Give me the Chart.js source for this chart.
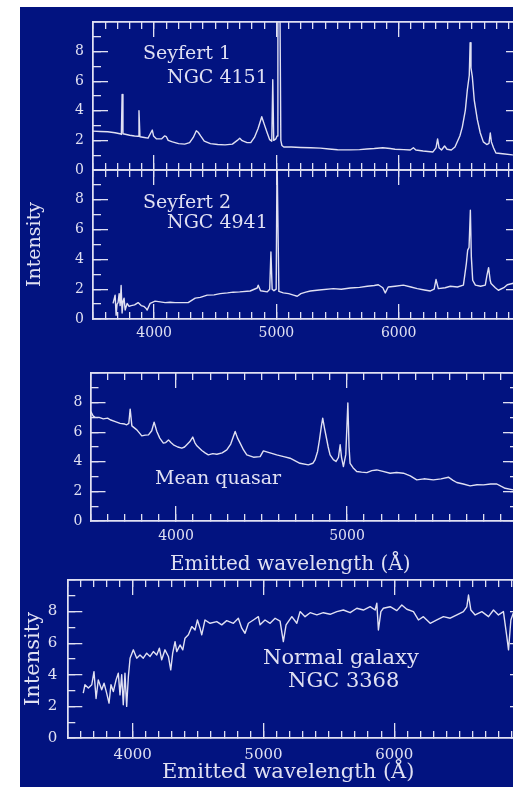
<!DOCTYPE html>
<html>
<head>
<meta charset="utf-8">
<script src="https://cdn.jsdelivr.net/npm/chart.js@4.4.1/dist/chart.umd.min.js"></script>
<style>
  html, body { margin: 0; padding: 0; background: #fff; overflow: hidden; width: 513px; height: 787px; }
  #backdrop { position: absolute; left: 20px; top: 7px; width: 493px; height: 780px; background: #021380; }
  canvas { position: absolute; left: 0; }
  .note { position: absolute; color: #e0e0f2; font-family: "DejaVu Serif", serif; white-space: nowrap; line-height: 1; }
</style>
</head>
<body>
<div id="backdrop"></div>
<canvas id="sy1" width="531" height="168" style="top:12px"></canvas>
<canvas id="sy2" width="531" height="189" style="top:160px"></canvas>
<canvas id="qso" width="528" height="188" style="top:363px"></canvas>
<canvas id="gal" width="535" height="198" style="top:570px"></canvas>

<div class="note" style="left:143px; top:43px; font-size:19px">Seyfert 1</div>
<div class="note" style="left:167px; top:67px; font-size:19px">NGC 4151</div>
<div class="note" style="left:143px; top:192px; font-size:19px">Seyfert 2</div>
<div class="note" style="left:167px; top:212px; font-size:19px">NGC 4941</div>
<div class="note" style="left:155px; top:468px; font-size:19px">Mean quasar</div>
<div class="note" style="left:170px; top:553px; font-size:20px">Emitted wavelength (Å)</div>
<div class="note" style="left:263px; top:647px; font-size:21px">Normal galaxy</div>
<div class="note" style="left:288px; top:670px; font-size:21px">NGC 3368</div>
<div class="note" style="left:162px; top:761px; font-size:21px">Emitted wavelength (Å)</div>

<script>
// tick labels
const waveLabels = [4000, 5000, 6000];
const waveLabelsQso = [4000, 5000];
const intensityLabels = [0, 2, 4, 6, 8];

// Seyfert 1 - NGC 4151
const sy1Wave = [3500, 3560, 3620, 3680, 3720, 3732, 3738, 3745, 3800, 3840, 3868, 3876, 3884, 3920, 3950, 3972, 3985, 3995,
  4020, 4060, 4085, 4100, 4115, 4150, 4200, 4250, 4290, 4320, 4345, 4360, 4380, 4410, 4460, 4520, 4580, 4640, 4680, 4700,
  4720, 4760, 4790, 4820, 4850, 4880, 4900, 4925, 4945, 4962, 4970, 4978, 4995, 5005, 5012, 5028, 5036, 5045, 5060, 5120,
  5200, 5280, 5360, 5430, 5500, 5600, 5680, 5740, 5800, 5870, 5930, 5970, 6040, 6095, 6120, 6140, 6200, 6280, 6305, 6318,
  6330, 6350, 6375, 6395, 6430, 6460, 6500, 6520, 6545, 6561, 6577, 6584, 6591, 6602, 6618, 6643, 6667, 6692, 6720, 6738,
  6749, 6758, 6775, 6795, 6850, 6930, 7000];
const sy1Flux = [2.63, 2.6, 2.58, 2.52, 2.45, 2.4, 5.1, 2.45, 2.35, 2.3, 2.28, 4.0, 2.25, 2.2, 2.15, 2.5, 2.7, 2.3,
  2.1, 2.1, 2.3, 2.25, 2.0, 1.9, 1.78, 1.75, 1.85, 2.2, 2.65, 2.55, 2.3, 1.95, 1.78, 1.72, 1.7, 1.75, 2.0, 2.15,
  1.98, 1.85, 1.85, 2.2, 2.8, 3.6, 3.1, 2.5, 2.05, 1.95, 6.1, 2.0, 2.1, 2.3, 12, 12, 2.0, 1.65, 1.55, 1.55,
  1.52, 1.5, 1.48, 1.42, 1.37, 1.36, 1.38, 1.42, 1.45, 1.5, 1.45, 1.4, 1.38, 1.35, 1.5, 1.35, 1.28, 1.22, 1.5, 2.1,
  1.5, 1.35, 1.62, 1.4, 1.35, 1.55, 2.3, 2.9, 4.05, 5.4, 6.4, 8.6, 6.9, 6.3, 4.7, 3.4, 2.5, 1.9, 1.72, 1.8,
  2.5, 1.9, 1.5, 1.15, 1.1, 1.02, 1.0];

// Seyfert 2 - NGC 4941
const sy2Wave = [3664, 3681, 3689, 3697, 3705, 3714, 3722, 3730, 3738, 3746, 3754, 3763, 3779, 3795, 3812, 3840, 3869, 3894,
  3915, 3935, 3943, 3967, 4008, 4050, 4090, 4130, 4172, 4230, 4278, 4336, 4377, 4434, 4490, 4540, 4600, 4646, 4700, 4785,
  4843, 4851, 4870, 4925, 4945, 4955, 4965, 4980, 4998, 5005, 5012, 5020, 5056, 5100, 5140, 5170, 5200, 5240, 5277, 5350,
  5465, 5530, 5604, 5680, 5743, 5800, 5833, 5870, 5890, 5914, 5970, 6038, 6100, 6152, 6210, 6259, 6290, 6305, 6324, 6380,
  6422, 6480, 6529, 6553, 6564, 6575, 6586, 6594, 6605, 6627, 6670, 6708, 6722, 6735, 6748, 6755, 6790, 6815, 6860, 6888,
  6937, 7000];
const sy2Flux = [1.05, 1.6, 0.25, 1.0, 1.1, 1.7, 0.9, 2.25, 0.4, 1.2, 1.4, 0.6, 1.05, 0.85, 0.9, 0.95, 1.1, 0.9,
  0.85, 0.7, 0.6, 1.05, 1.2, 1.15, 1.1, 1.12, 1.1, 1.1, 1.1, 1.4, 1.45, 1.6, 1.62, 1.7, 1.75, 1.8, 1.82, 1.88,
  2.08, 2.27, 1.9, 1.82, 2.0, 4.5, 2.0, 1.9, 2.0, 11, 11, 1.85, 1.75, 1.7, 1.6, 1.53, 1.7, 1.8, 1.88, 1.95,
  2.04, 2.0, 2.08, 2.12, 2.2, 2.25, 2.3, 2.1, 1.75, 2.15, 2.2, 2.27, 2.15, 2.04, 1.95, 1.88, 2.0, 2.65, 2.04, 2.1,
  2.2, 2.15, 2.27, 3.72, 4.62, 4.8, 7.3, 4.15, 2.6, 2.27, 2.2, 2.27, 2.94, 3.45, 2.6, 2.38, 2.1, 1.93, 2.1, 2.3,
  2.4, 2.3];

// Mean quasar
const qsoWave = [3502, 3515, 3527, 3550, 3575, 3600, 3615, 3645, 3673, 3700, 3712, 3724, 3732, 3742, 3771, 3800, 3820, 3839,
  3858, 3872, 3888, 3905, 3926, 3940, 3956, 3970, 3985, 4010, 4034, 4050, 4063, 4080, 4098, 4110, 4122, 4151, 4170, 4189,
  4215, 4239, 4270, 4297, 4320, 4346, 4360, 4375, 4395, 4414, 4453, 4492, 4511, 4550, 4589, 4630, 4667, 4700, 4725, 4774,
  4800, 4813, 4828, 4839, 4850, 4858, 4868, 4878, 4890, 4901, 4920, 4936, 4950, 4960, 4968, 4979, 4993, 5005, 5012, 5018,
  5035, 5057, 5085, 5116, 5145, 5174, 5210, 5252, 5290, 5330, 5370, 5408, 5450, 5505, 5550, 5593, 5620, 5642, 5680, 5720,
  5760, 5798, 5840, 5876, 5900, 5925, 5972, 6000];
const qsoFlux = [7.4, 7.1, 7.0, 7.0, 6.9, 6.95, 6.84, 6.72, 6.6, 6.55, 6.5, 6.6, 7.56, 6.43, 6.16, 5.75, 5.8, 5.82,
  6.1, 6.68, 6.05, 5.6, 5.26, 5.3, 5.48, 5.3, 5.15, 5.0, 4.92, 5.0, 5.15, 5.35, 5.67, 5.3, 5.08, 4.76, 4.6, 4.47,
  4.55, 4.51, 4.6, 4.8, 5.2, 6.05, 5.6, 5.26, 4.8, 4.47, 4.31, 4.35, 4.74, 4.6, 4.47, 4.35, 4.24, 4.05, 3.9, 3.79,
  3.9, 4.13, 4.7, 5.48, 6.4, 6.95, 6.3, 5.71, 5.0, 4.47, 4.15, 4.02, 4.3, 5.15, 4.3, 3.68, 4.5, 7.97, 5.0, 3.9,
  3.6, 3.34, 3.3, 3.27, 3.4, 3.45, 3.35, 3.23, 3.28, 3.23, 3.05, 2.78, 2.85, 2.78, 2.85, 2.96, 2.75, 2.6, 2.5, 2.37,
  2.45, 2.44, 2.5, 2.5, 2.35, 2.21, 2.1, 2.05];

// Normal galaxy - NGC 3368
const galWave = [3622, 3635, 3661, 3687, 3704, 3720, 3737, 3763, 3781, 3801, 3819, 3834, 3852, 3873, 3890, 3903, 3916, 3928,
  3941, 3954, 3967, 3980, 4005, 4031, 4056, 4081, 4107, 4133, 4158, 4184, 4204, 4222, 4247, 4273, 4291, 4306, 4324, 4337,
  4362, 4383, 4400, 4426, 4452, 4477, 4495, 4515, 4528, 4553, 4592, 4643, 4681, 4719, 4770, 4808, 4834, 4859, 4885, 4923,
  4961, 4974, 5012, 5051, 5089, 5127, 5152, 5173, 5217, 5255, 5280, 5318, 5357, 5408, 5458, 5510, 5561, 5611, 5663, 5714,
  5764, 5816, 5854, 5867, 5879, 5898, 5917, 5969, 6020, 6058, 6096, 6147, 6185, 6223, 6275, 6326, 6376, 6428, 6479, 6529,
  6555, 6568, 6586, 6619, 6670, 6721, 6759, 6797, 6835, 6861, 6874, 6892, 6910, 6950, 7000];
const galFlux = [2.84, 3.37, 3.16, 3.37, 4.2, 2.5, 3.68, 3.05, 3.47, 2.84, 2.21, 3.37, 2.94, 3.68, 4.1, 2.73, 4.0, 2.1,
  4.1, 2.0, 3.89, 5.05, 5.58, 5.05, 5.26, 5.05, 5.37, 5.16, 5.47, 5.26, 5.68, 4.95, 5.58, 5.16, 4.31, 5.37, 6.1, 5.47,
  5.89, 5.58, 6.32, 6.53, 7.05, 6.84, 7.47, 6.95, 6.53, 7.47, 7.26, 7.37, 7.16, 7.43, 7.26, 7.58, 6.95, 6.63, 7.26, 7.47,
  7.68, 7.16, 7.47, 7.26, 7.58, 7.4, 6.1, 7.16, 7.68, 7.26, 8.0, 7.68, 7.93, 7.79, 7.93, 7.83, 8.0, 8.1, 7.93, 8.21,
  8.1, 8.31, 8.1, 8.53, 6.84, 8.0, 8.21, 8.31, 8.06, 8.42, 8.15, 8.0, 7.47, 7.68, 7.26, 7.47, 7.68, 7.58, 7.79, 8.0,
  8.3, 9.05, 8.1, 7.79, 8.0, 7.68, 8.1, 7.79, 8.0, 6.42, 5.58, 7.47, 7.9, 7.8, 7.7];

const ink = '#e0e0f2';
const serif = '"DejaVu Serif", serif';

function noPadding(s) {
  s.paddingTop = 0; s.paddingBottom = 0; s.paddingLeft = 0; s.paddingRight = 0;
}

// tick-mark-only axis: zero size, ticks drawn inward
function tickAxis(min, max, position, len, step, values) {
  const horizontal = position === 'top' || position === 'bottom';
  return {
    type: 'linear', min: min, max: max, position: position, weight: 0,
    grid: { drawOnChartArea: false, tickLength: -len, color: ink, lineWidth: 1.3 },
    border: { display: true, color: ink, width: 1.5 },
    ticks: { display: false, stepSize: step },
    afterBuildTicks: values ? (s => { s.ticks = values.map(v => ({ value: v })); }) : undefined,
    afterFit: s => { noPadding(s); if (horizontal) s.height = 0; else s.width = 0; }
  };
}

function spectrum(id, wave, flux, p) {
  const points = wave.map((w, i) => ({ x: w, y: flux[i] }));
  const font = { family: serif, size: p.fontSize };
  const scales = {
    x: {
      type: 'linear', min: 3500, max: p.xMax, position: 'bottom', weight: 1,
      grid: { display: false, drawTicks: false }, border: { display: false },
      ticks: { display: p.xLabels.length > 0, color: ink, font: font, padding: p.xPad, callback: v => String(v) },
      afterBuildTicks: s => { s.ticks = p.xLabels.map(v => ({ value: v })); },
      afterFit: s => { noPadding(s); s.height = p.bottom; }
    },
    y: {
      type: 'linear', min: 0, max: 10, position: 'left', weight: 1,
      grid: { display: false, drawTicks: false }, border: { display: false },
      ticks: { color: ink, font: font, padding: p.yPad },
      afterBuildTicks: s => { s.ticks = intensityLabels.map(v => ({ value: v })); },
      afterFit: s => { noPadding(s); s.width = p.left; },
      title: p.yTitle ? {
        display: true, text: 'Intensity', color: ink,
        font: { family: serif, size: p.titleSize }, padding: { top: p.titlePad, bottom: 0 }
      } : { display: false }
    },
    xMinor: tickAxis(3500, p.xMax, 'bottom', 7, 100),
    xMajor: tickAxis(3500, p.xMax, 'bottom', 15, null, p.xMajor),
    xTopMinor: tickAxis(3500, p.xMax, 'top', 7, 100),
    xTopMajor: tickAxis(3500, p.xMax, 'top', 15, null, p.xMajor),
    yMinor: tickAxis(0, 10, 'left', 8, 1),
    yMajor: tickAxis(0, 10, 'left', 15, 2),
    yRightMinor: tickAxis(0, 10, 'right', 8, 1),
    yRightMajor: tickAxis(0, 10, 'right', 15, 2)
  };
  return new Chart(document.getElementById(id), {
    type: 'line',
    data: {
      datasets: [{
        data: points,
        borderColor: ink,
        borderWidth: 1.4,
        borderJoinStyle: 'round',
        pointRadius: 0,
        tension: 0,
        xAxisID: 'x',
        yAxisID: 'y'
      }]
    },
    options: {
      responsive: false,
      animation: false,
      events: [],
      layout: { autoPadding: false, padding: { top: 10, right: 10, bottom: p.padBottom, left: 0 } },
      plugins: { legend: { display: false }, tooltip: { enabled: false } },
      scales: scales
    }
  });
}

spectrum('sy1', sy1Wave, sy1Flux, {
  xMax: 7000, left: 93, xLabels: [], xMajor: waveLabels, bottom: 0, padBottom: 10,
  fontSize: 14, xPad: 6, yPad: 9
});
spectrum('sy2', sy2Wave, sy2Flux, {
  xMax: 7000, left: 93, xLabels: waveLabels, xMajor: waveLabels, bottom: 30, padBottom: 0,
  fontSize: 14, xPad: 6, yPad: 9, yTitle: true, titleSize: 19, titlePad: 24
});
spectrum('qso', qsoWave, qsoFlux, {
  xMax: 6000, left: 90.5, xLabels: waveLabelsQso, xMajor: waveLabelsQso, bottom: 30, padBottom: 0,
  fontSize: 14, xPad: 7, yPad: 8
});
spectrum('gal', galWave, galFlux, {
  xMax: 7000, left: 67.3, xLabels: waveLabels, xMajor: waveLabels, bottom: 30, padBottom: 0,
  fontSize: 15, xPad: 8, yPad: 10, yTitle: true, titleSize: 21, titlePad: 21
});
</script>
</body>
</html>
